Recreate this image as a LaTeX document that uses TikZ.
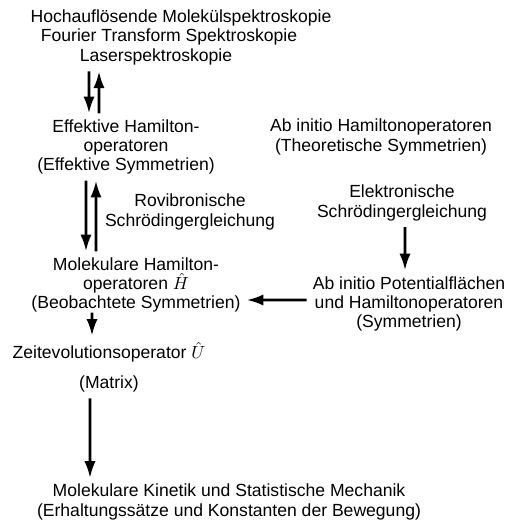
\documentclass[tikz,border=0pt]{standalone}
\usepackage{fontspec}
\setmainfont{Liberation Sans}
\usetikzlibrary{arrows.meta}

\begin{document}
\begin{tikzpicture}[x=0.2mm, y=-0.2mm,
    every node/.style={font=\fontsize{10}{11}\selectfont, align=center},
    arr/.style={-{Latex[length=9.5pt,width=6.4pt]}, line width=1.5pt}]
  \useasboundingbox (0,0) rectangle (513,531);
  % Spektroskopie
  \node (spek1) at (181,18) {Hochauflösende Molekülspektroskopie};
  \node (spek2) at (169,37) {Fourier Transform Spektroskopie};
  \node (spek3) at (156,57) {Laserspektroskopie};
  % linke Spalte
  \node (eff) at (126,147) {Effektive Hamilton-\\operatoren\\(Effektive Symmetrien)};
  \node (rovib) at (190,212) {Rovibronische\\Schrödingergleichung};
  \node (mol) at (136,285) {Molekulare Hamilton-\\operatoren $\hat{H}$\\(Beobachtete Symmetrien)};
  \node (zeit) at (109,367) {Zeitevolutionsoperator $\hat{U}$\\[6pt](Matrix)};
  \node (kin) at (229,502) {Molekulare Kinetik und Statistische Mechanik\\(Erhaltungssätze und Konstanten der Bewegung)};
  % rechte Spalte
  \node (abh) at (381,137) {Ab initio Hamiltonoperatoren\\(Theoretische Symmetrien)};
  \node (elek) at (402,203) {Elektronische\\Schrödingergleichung};
  \node (pot) at (409,304) {Ab initio Potentialflächen\\und Hamiltonoperatoren\\(Symmetrien)};
  % Pfeile
  \draw[arr] ([xshift=-13.4mm]spek3.south) -- ([xshift=-7.4mm]eff.north);
  \draw[arr] ([xshift=-5.4mm]eff.north) -- ([xshift=-11.4mm]spek3.south);
  \draw[arr] ([xshift=-8mm]eff.south) -- ([xshift=-10mm]mol.north);
  \draw[arr] ([xshift=-8mm]mol.north) -- ([xshift=-6mm]eff.south);
  \draw[arr] ([xshift=0.6mm]elek.south) -- ([xshift=-0.8mm]pot.north);
  \draw[arr] ([yshift=0.8mm]pot.west) -- ([yshift=-3mm]mol.east);
  \draw[arr, shorten <=-1.2mm] ([xshift=-8.8mm]mol.south) -- ([xshift=-3.4mm]zeit.north);
  \draw[arr] ([xshift=-3.8mm]zeit.south) -- ([xshift=-27.8mm]kin.north);
\end{tikzpicture}
\end{document}
